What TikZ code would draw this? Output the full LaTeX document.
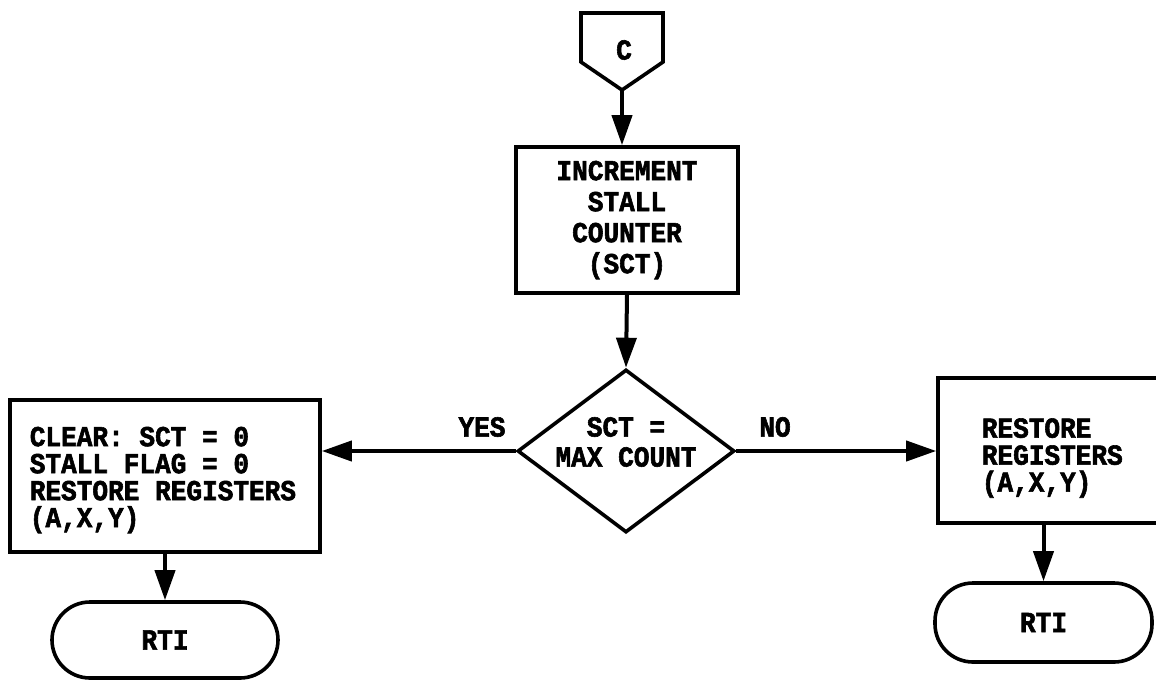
\documentclass[tikz,border=0pt]{standalone}
\usepackage{fontspec}
\setmainfont{Liberation Mono}[BoldFeatures={FakeBold=2,FakeStretch=0.9}]
\usetikzlibrary{arrows.meta,shapes.geometric}

\begin{document}
\begin{tikzpicture}[x=1pt,y=-1pt,line width=3.6pt,
  every node/.style={font=\bfseries\fontsize{29}{27}\selectfont,inner sep=0pt},
  box/.style={draw,rectangle},
  term/.style={draw,rectangle,rounded corners=38pt},
  txt/.style={align=left,anchor=west},
  flow/.style={-{Triangle[length=30pt,width=20pt]},line width=4pt}]

\useasboundingbox (0,0) rectangle (1156,681);
\clip (0,0) rectangle (1156,681);

% off-page connector
\draw (581,13) -- (663,13) -- (663,62) -- (622,90) coordinate (cbot) -- (581,62) -- cycle;
\node (ctext) at (624,50) {C};

% increment step
\node[box,minimum width=222pt,minimum height=146pt,align=center,
      font=\bfseries\fontsize{29}{31}\selectfont] (inc) at (627,220)
  {INCREMENT\\STALL\\COUNTER\\(SCT)};

% decision
\node[draw,diamond,aspect=1.33,minimum width=217pt,minimum height=163pt] (dia) at (626,451) {};
\node[align=center,font=\bfseries\fontsize{29}{30}\selectfont] (diatext) at (626,442) {SCT =\\MAX COUNT};

% yes branch
\node[box,minimum width=310pt,minimum height=152pt] (left) at (165,476) {};
\node[txt] (lefttext) at (28,480) {CLEAR: SCT = 0\\STALL FLAG = 0\\RESTORE REGISTERS\\(A,X,Y)};
\node[term,minimum width=226pt,minimum height=76pt] (rtia) at (165,640) {RTI};

% no branch
\node[box,minimum width=232pt,minimum height=145pt] (right) at (1054,450.5) {};
\node[txt] (righttext) at (980,458) {RESTORE\\REGISTERS\\(A,X,Y)};
\node[term,minimum width=217pt,minimum height=79pt] (rtib) at (1043.5,622.5) {RTI};

% branch labels
\node (yes) at (482,427) {YES};
\node (no) at (775,427) {NO};

% connectors
\draw[flow] (cbot) -- (cbot |- inc.north);
\draw[flow] (inc.south) -- (dia.north);
\draw[flow] (dia.west) -- (dia.west -| left.east);
\draw[flow] (dia.east) -- (dia.east -| right.west);
\draw[flow] (left.south) -- (rtia.north);
\draw[flow] (rtib.north |- right.south) -- (rtib.north);
\end{tikzpicture}
\end{document}
